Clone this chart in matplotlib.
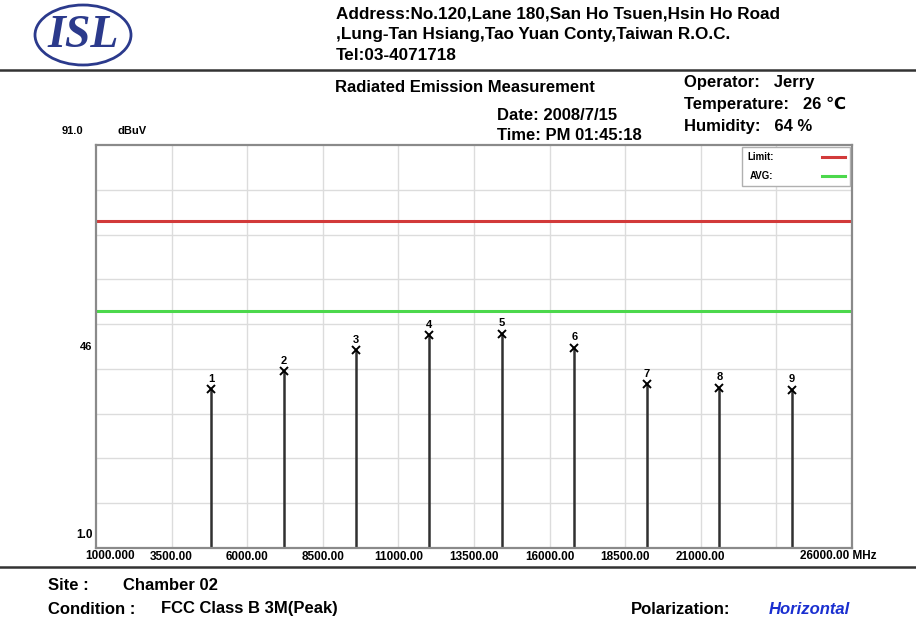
import matplotlib
matplotlib.use("Agg")
import matplotlib.pyplot as plt
from matplotlib.patches import Ellipse
from matplotlib.lines import Line2D

# ---- data ----
freqs_mhz = [4804, 7206, 9608, 12010, 14412, 16814, 19216, 21618, 24020]
levels_dbuv = [36.4, 40.5, 45.2, 48.5, 48.8, 45.7, 37.6, 36.8, 36.3]
marker_ids = ["1", "2", "3", "4", "5", "6", "7", "8", "9"]
limit_peak = 74.0
limit_avg = 54.0
x_tick_values = [3500, 6000, 8500, 11000, 13500, 16000, 18500, 21000]
x_tick_labels = ["3500.00", "6000.00", "8500.00", "11000.00", "13500.00",
                 "16000.00", "18500.00", "21000.00"]
x_grid = [3500, 6000, 8500, 11000, 13500, 16000, 18500, 21000, 23500]
y_grid = [11, 21, 31, 41, 51, 61, 71, 81]
x_min, x_max = 1000, 26000
y_min, y_max = 1.0, 91.0

W, H = 916, 623
fig = plt.figure(figsize=(W / 100, H / 100), dpi=100)
fig.patch.set_facecolor("white")

def fx(px):
    return px / W

def fy(py):
    return 1 - py / H

SANS = ["Liberation Sans", "DejaVu Sans"]

# ---- axes ----
ax_left, ax_right, ax_top, ax_bottom = 96, 852, 145, 548
ax = fig.add_axes([fx(ax_left), fy(ax_bottom), (ax_right - ax_left) / W, (ax_bottom - ax_top) / H])
ax.set_xlim(x_min, x_max)
ax.set_ylim(y_min, y_max)
for s in ax.spines.values():
    s.set_color("#8a8a8a")
    s.set_linewidth(1.6)

ax.set_xticks(x_tick_values)
ax.set_xticklabels(x_tick_labels, fontfamily=SANS, fontsize=8.5, fontweight="bold")
ax.set_yticks([46])
ax.set_yticklabels(["46"], fontfamily=SANS, fontsize=8, fontweight="bold")
ax.tick_params(which="both", length=0, pad=3)
ax.tick_params(axis="x", pad=2)

# grid drawn from explicit grid positions
for gx in x_grid:
    ax.axvline(gx, color="#dcdcdc", linewidth=1.0, zorder=0.5)
for gy in y_grid:
    ax.axhline(gy, color="#dcdcdc", linewidth=1.0, zorder=0.5)

# limits
ax.axhline(limit_peak, color="#d23a3a", linewidth=2.2, label="Limit:")
ax.axhline(limit_avg, color="#4cd84c", linewidth=2.2, label="AVG:")

# stems and markers
for f, v, lab in zip(freqs_mhz, levels_dbuv, marker_ids):
    ax.vlines(f, y_min, v, color="#303030", linewidth=1.8)
    ax.plot([f], [v], marker="x", color="black", markersize=6, markeredgewidth=1.4, linestyle="none")
    ax.annotate(lab, (f, v), xytext=(0, 4), textcoords="offset points",
                ha="center", va="bottom", fontsize=8, fontweight="bold", fontfamily=SANS)

leg = ax.legend(loc="upper right", markerfirst=False, frameon=True,
                handlelength=2.3, handletextpad=5.0, borderaxespad=0.25, borderpad=0.5,
                labelspacing=0.9, fancybox=False, alignment="left",
                prop={"family": SANS, "weight": "bold", "size": 7})
leg.get_frame().set_edgecolor("#b0b0b0")
leg.get_frame().set_linewidth(1.0)
leg.get_frame().set_alpha(1.0)

# axis end labels
fig.text(fx(62), fy(131), "91.0", fontsize=8, fontweight="bold", fontfamily=SANS, va="center", ha="left")
fig.text(fx(117), fy(131), "dBuV", fontsize=8, fontweight="bold", fontfamily=SANS, va="center", ha="left")
fig.text(fx(93), fy(535), "1.0", fontsize=8.5, fontweight="bold", fontfamily=SANS, va="center", ha="right")
fig.text(fx(85), fy(556), "1000.000", fontsize=8.5, fontweight="bold", fontfamily=SANS, va="center", ha="left")
fig.text(fx(876), fy(556), "26000.00 MHz", fontsize=8.5, fontweight="bold", fontfamily=SANS, va="center", ha="right")

# ---- header ----
logo = Ellipse((fx(83), fy(35)), 96 / W, 60 / H, transform=fig.transFigure,
               facecolor="white", edgecolor="#2b3a8c", linewidth=2.0)
fig.patches.append(logo)
fig.text(fx(83), fy(36), "ISL", fontsize=33, fontweight="bold", fontstyle="italic",
         fontfamily=["Liberation Serif", "DejaVu Serif"], color="#2b3a8c", ha="center", va="center")

addr = ["Address:No.120,Lane 180,San Ho Tsuen,Hsin Ho Road",
        ",Lung-Tan Hsiang,Tao Yuan Conty,Taiwan R.O.C.",
        "Tel:03-4071718"]
for i, line in enumerate(addr):
    fig.text(fx(336), fy(14 + 21 * i), line, fontsize=12.3, fontweight="bold",
             fontfamily=SANS, va="center", ha="left")

fig.add_artist(Line2D([0, 1], [fy(70), fy(70)], transform=fig.transFigure, color="#333333", linewidth=1.8))
fig.add_artist(Line2D([0, 1], [fy(567), fy(567)], transform=fig.transFigure, color="#333333", linewidth=1.8))

hdr = dict(fontsize=12, fontweight="bold", fontfamily=SANS, va="center", ha="left")
fig.text(fx(335), fy(88), "Radiated Emission Measurement", **hdr)
fig.text(fx(497), fy(115), "Date: 2008/7/15", **hdr)
fig.text(fx(497), fy(135), "Time: PM 01:45:18", **hdr)
fig.text(fx(684), fy(83), "Operator:   Jerry", **hdr)
fig.text(fx(684), fy(104), "Temperature:   26 \u2103", **hdr)
fig.text(fx(684), fy(126), "Humidity:   64 %", **hdr)

# ---- footer ----
ftr = dict(fontsize=12, fontweight="bold", fontfamily=SANS, va="center", ha="left")
fig.text(fx(48), fy(585), "Site :", **ftr)
fig.text(fx(123), fy(585), "Chamber 02", **ftr)
fig.text(fx(48), fy(609), "Condition :", **ftr)
fig.text(fx(161), fy(609), "FCC Class B 3M(Peak)", **ftr)
fig.text(fx(631), fy(609), "Polarization:", **ftr)
fig.text(fx(769), fy(609), "Horizontal", fontsize=12, fontweight="bold", fontstyle="italic",
         fontfamily=SANS, color="#1a2fd0", va="center", ha="left")

fig.savefig("out.png", dpi=100)
